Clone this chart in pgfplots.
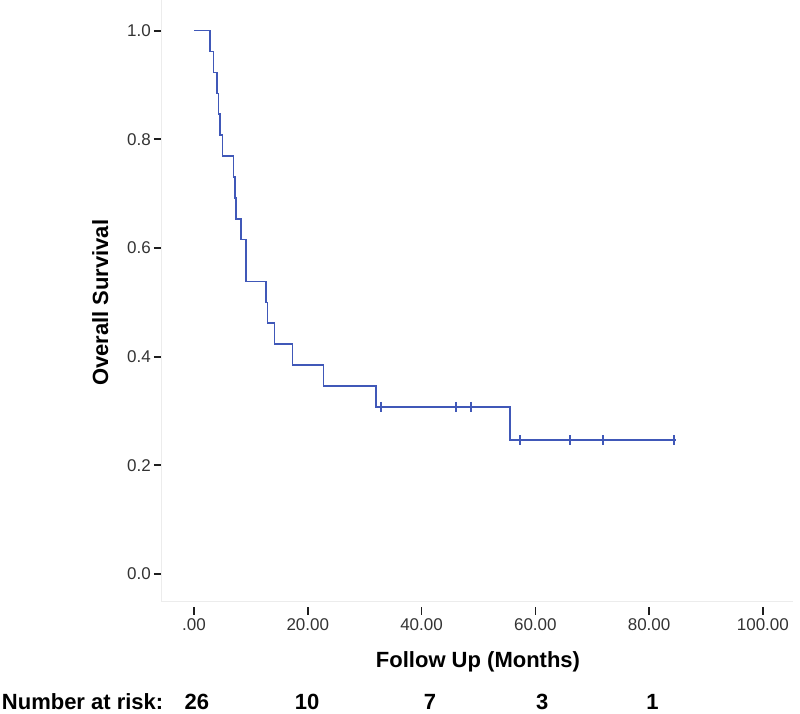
\documentclass[border=0pt]{standalone}
\usepackage{fontspec}
\setmainfont{Liberation Sans}
\setsansfont{Liberation Sans}
\usepackage{pgfplots}
\pgfplotsset{compat=1.18}

\definecolor{kmblue}{RGB}{64,88,184}
\definecolor{faint}{RGB}{236,236,236}
\definecolor{tickgray}{RGB}{30,30,30}

% Kaplan-Meier steps (months, survival)
\pgfplotstableread{
t s
0 1.0000
2.81 0.9615
3.39 0.9231
3.99 0.8846
4.27 0.8462
4.57 0.8077
4.98 0.7692
6.91 0.7308
7.21 0.6923
7.39 0.6538
8.26 0.6154
9.14 0.5385
12.66 0.5000
12.89 0.4615
14.12 0.4231
17.29 0.3846
22.74 0.3462
32.00 0.3077
55.57 0.2462
84.80 0.2462
}\survdata

% censored cases
\pgfplotstableread{
t s
32.88 0.3077
46.07 0.3077
48.65 0.3077
57.30 0.2462
66.10 0.2462
71.90 0.2462
84.40 0.2462
}\censdata

\begin{document}
\begin{tikzpicture}
\useasboundingbox (0,0) rectangle (800pt,714pt);
\begin{axis}[
  at={(162pt,112pt)}, anchor=south west,
  scale only axis,
  width=631pt, height=602pt,
  xmin=-5.63, xmax=105.3,
  ymin=-0.0515, ymax=1.0565,
  axis x line*=bottom, axis y line*=left,
  axis line style={draw=faint, line width=1pt, -},
  xtick={0,20,40,60,80,100},
  xticklabels={.00,20.00,40.00,60.00,80.00,100.00},
  ytick={0,0.2,0.4,0.6,0.8,1.0},
  yticklabels={0.0,0.2,0.4,0.6,0.8,1.0},
  tick align=outside,
  major tick length=8pt,
  xtick style={draw=tickgray, line width=1.6pt, yshift=-5pt},
  ytick style={draw=tickgray, line width=2pt},
  tick label style={font=\fontsize{17}{20}\selectfont, text=black!80, inner sep=0pt},
  xticklabel shift=8pt,
  yticklabel shift=3pt,
  xlabel={Follow Up (Months)},
  ylabel={Overall Survival},
  label style={font=\fontsize{22}{26}\selectfont\bfseries, inner sep=0pt},
  xlabel style={at={(axis description cs:0.5008,-0.1096)}, anchor=base},
  ylabel style={at={(axis description cs:-0.098,0.497)}, anchor=center, rotate=0},
  clip=false,
]
\addplot[const plot, color=kmblue, line width=1.6pt] table[x=t, y=s] {\survdata};
\addplot[only marks, mark=|, mark size=5pt, color=kmblue, mark options={line width=1.5pt}] table[x=t, y=s] {\censdata};

\node[anchor=base west, font=\fontsize{22}{26}\selectfont\bfseries, inner sep=0pt]
  at (axis description cs:-0.254,-0.1785) {Number at risk:};
\node[anchor=base, font=\fontsize{22}{26}\selectfont\bfseries, inner sep=0pt] at (axis cs:0.5,-0.249) {26};
\node[anchor=base, font=\fontsize{22}{26}\selectfont\bfseries, inner sep=0pt] at (axis cs:19.9,-0.249) {10};
\node[anchor=base, font=\fontsize{22}{26}\selectfont\bfseries, inner sep=0pt] at (axis cs:41.5,-0.249) {7};
\node[anchor=base, font=\fontsize{22}{26}\selectfont\bfseries, inner sep=0pt] at (axis cs:61.2,-0.249) {3};
\node[anchor=base, font=\fontsize{22}{26}\selectfont\bfseries, inner sep=0pt] at (axis cs:80.6,-0.249) {1};
\end{axis}
\end{tikzpicture}
\end{document}
